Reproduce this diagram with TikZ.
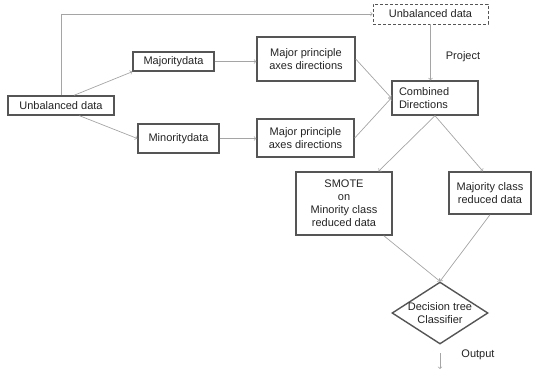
\documentclass[tikz,border=0pt]{standalone}
\usepackage{fontspec}
\setmainfont{Liberation Sans}
\usetikzlibrary{shapes,arrows}
\definecolor{boxgray}{RGB}{85,85,85}
\definecolor{linegray}{RGB}{165,165,165}
\definecolor{textgray}{RGB}{35,35,35}
\tikzstyle{block} = [rectangle, draw=boxgray, line width=1.4pt, text=textgray,
    inner sep=2pt, align=center]
\tikzstyle{dashblock} = [rectangle, draw=boxgray, densely dashed, line width=0.6pt,
    text=textgray, inner sep=2pt]
\tikzstyle{decision} = [diamond, draw=boxgray, line width=1.4pt, inner sep=0pt,
    minimum width=96, minimum height=62]
\tikzstyle{line} = [draw=linegray, line width=0.7pt, -to]
\tikzstyle{tag} = [text=textgray]

\begin{document}
\begin{tikzpicture}[x=1pt, y=-1pt, font=\fontsize{11}{13}\selectfont]
		\useasboundingbox (0,0) rectangle (533,372);
		\node [block, minimum width=106, minimum height=19] (unb) at (61,105.5) {Unbalanced data};
		\node [block, minimum width=81, minimum height=19] (maj) at (173.5,61.5) {Majoritydata};
		\node [block, minimum width=81, minimum height=29] (min) at (178.5,138.5) {Minoritydata};
		\node [block, minimum width=98, minimum height=44] (dir1) at (306,59) {Major principle\\ axes directions};
		\node [block, minimum width=97, minimum height=38] (dir2) at (305.5,138) {Major principle\\ axes directions};
		\node [dashblock, minimum width=115, minimum height=20] (unb2) at (430.5,14) {Unbalanced data};
		\node [block, minimum width=86, minimum height=34, align=left, text width=72] (comb) at (435,98) {Combined\\Directions};
		\node [block, minimum width=96, minimum height=63] (smote) at (344,203.5) {SMOTE\\on\\Minority class\\reduced data};
		\node [block, minimum width=82, minimum height=42] (majred) at (490,193) {Majority class\\reduced data};
		\node [decision, label={[text=textgray, align=center]center:Decision tree\\Classifier}] (dt) at (440,313) {};
		\node [tag] (project) at (463,57) {Project};
		\node [tag] (output) at (478,355) {Output};
		\coordinate (outstart) at (440,353);
		\coordinate (outend) at (440,369);
		
		\path [line] (unb.north) |- (unb2.west);
		\path [line] (unb.38) -- (maj.south west);
		\path [line] (unb.-29) -- (min.west);
		\path [line] (maj.east) -- (maj.east -| dir1.west);
		\path [line] (min.east) -- (min.east -| dir2.west);
		\path [line] (dir1.east) -- (comb.west);
		\path [line] (dir2.east) -- (comb.west);
		\path [line] (unb2.south) -- (unb2.south |- comb.north);
		\path [line] (comb.south) -- (smote.43);
		\path [line] (comb.south) -- (majred.108);
		\path [line] (smote.-39) -- (dt.north);
		\path [line] (majred.south) -- (dt.north);
		\path [line] (outstart) -- (outend);
	\end{tikzpicture}
\end{document}
